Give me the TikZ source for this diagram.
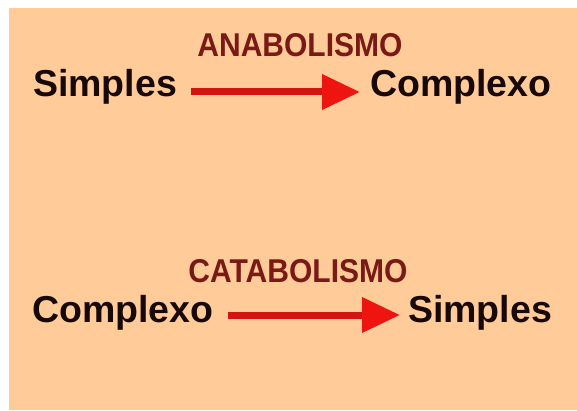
\documentclass[tikz,border=0pt]{standalone}
\usepackage{fontspec}
\setmainfont{Liberation Sans}
\usetikzlibrary{arrows.meta}
\definecolor{peach}{HTML}{FFCC99}
\definecolor{titlered}{HTML}{7A1A16}
\definecolor{textblack}{HTML}{180808}
\definecolor{arrline}{HTML}{D41410}
\definecolor{arrhead}{HTML}{EE1410}
\tikzset{
  x=1pt, y=1pt,
  word/.style={inner sep=0pt, anchor=base west, text=textblack, font=\bfseries\fontsize{37.5}{40}\selectfont},
  title/.style={inner sep=0pt, anchor=base, xscale=0.91, text=titlered, font=\bfseries\fontsize{33}{36}\selectfont},
  arr/.style={arrline, line width=7pt, -{Triangle[length=38pt,width=34pt,color=arrhead]}}
}
\begin{document}
\begin{tikzpicture}
\useasboundingbox (0,0) rectangle (577,410);
\fill[white] (0,0) rectangle (577,410);
\fill[peach] (9,0) rectangle (577,402);
% top
\node[title] (ana) at (300,353) {ANABOLISMO};
\node[word] (s1) at (33,313) {Simples};
\node[word] (c1) at (370,313) {Complexo};
\draw[arr] ([shift={(14pt,5pt)}]s1.base east) -- ([shift={(-10pt,5pt)}]c1.base west);
% bottom
\node[title] (cata) at (298,128) {CATABOLISMO};
\node[word] (c2) at (32,88) {Complexo};
\node[word] (s2) at (408,88) {Simples};
\draw[arr] ([shift={(14pt,7pt)}]c2.base east) -- ([shift={(-8pt,7pt)}]s2.base west);
\end{tikzpicture}
\end{document}
